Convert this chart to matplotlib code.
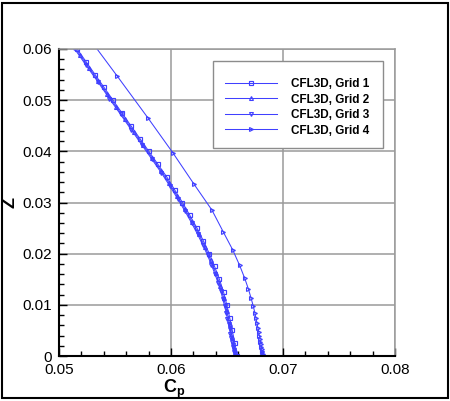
import matplotlib
matplotlib.use("Agg")
import matplotlib.pyplot as plt
from matplotlib.ticker import MultipleLocator, FormatStrFormatter
from matplotlib.patches import Rectangle

plt.rcParams['font.family'] = ['Liberation Sans', 'DejaVu Sans']
plt.rcParams['mathtext.fontset'] = 'custom'
plt.rcParams['mathtext.rm'] = 'Liberation Sans'
plt.rcParams['mathtext.bf'] = 'Liberation Sans:bold'

# ---- data ----
grid1_z = [0.0, 0.0025, 0.005, 0.0075, 0.01, 0.0125, 0.015, 0.0175, 0.02, 0.0225,
           0.025, 0.0275, 0.03, 0.0325, 0.035, 0.0375, 0.04, 0.0425, 0.045, 0.0475,
           0.05, 0.0525, 0.055, 0.0575, 0.06, 0.0625, 0.065]
grid1_cp = [0.06592, 0.06570, 0.06547, 0.06524, 0.06498, 0.06469, 0.06432, 0.06389, 0.06342, 0.06289,
            0.06232, 0.06168, 0.06102, 0.06032, 0.05962, 0.05882, 0.05802, 0.05722, 0.05642, 0.05562,
            0.05482, 0.05402, 0.05322, 0.05242, 0.05162, 0.05082, 0.05002]

grid2_z = [0.0, 0.00125, 0.00375, 0.00625, 0.00875, 0.01125, 0.01375, 0.01625, 0.01875, 0.02125,
           0.02375, 0.02625, 0.02875, 0.03125, 0.03375, 0.03625, 0.03875, 0.04125, 0.04375,
           0.04625, 0.04875, 0.05125, 0.05375, 0.05625, 0.05875, 0.06125, 0.06375]
grid2_cp = [0.06580, 0.06569, 0.06547, 0.06524, 0.06499, 0.06472, 0.06439, 0.06399, 0.06354, 0.06304,
            0.06249, 0.06188, 0.06123, 0.06055, 0.05985, 0.05910, 0.05830, 0.05750, 0.05670,
            0.05590, 0.05510, 0.05430, 0.05350, 0.05270, 0.05190, 0.05110, 0.05030]

grid3_z = [0.0, 0.0004, 0.0008, 0.0012, 0.0017, 0.0022, 0.0028, 0.0035, 0.0043, 0.0052,
           0.0062, 0.0073, 0.0085, 0.0098, 0.0112, 0.0127, 0.0143, 0.0160, 0.0178, 0.0197,
           0.0217, 0.0238, 0.0260, 0.0283, 0.0307, 0.0332, 0.0358, 0.0385, 0.0413, 0.0442,
           0.0472, 0.0503, 0.0535, 0.0568, 0.0602, 0.0637]
grid3_cp = [0.06570, 0.06567, 0.06563, 0.06559, 0.06555, 0.06551, 0.06545, 0.06539, 0.06531, 0.06523,
            0.06514, 0.06504, 0.06492, 0.06478, 0.06462, 0.06444, 0.06420, 0.06393, 0.06361, 0.06326,
            0.06284, 0.06237, 0.06184, 0.06125, 0.06060, 0.05990, 0.05914, 0.05828, 0.05738, 0.05646,
            0.05550, 0.05450, 0.05350, 0.05242, 0.05134, 0.05022]

grid4_z = [0.0645, 0.0547, 0.0465, 0.0397, 0.0336, 0.0285, 0.0242, 0.0207, 0.0177, 0.0152,
           0.0131, 0.0113, 0.0098, 0.0085, 0.0074, 0.0064, 0.0055, 0.0047, 0.0040, 0.0034,
           0.0028, 0.0023, 0.0018, 0.0014, 0.0010, 0.0007, 0.0004, 0.0002, 0.0]
grid4_cp = [0.05187, 0.05520, 0.05795, 0.06017, 0.06205, 0.06366, 0.06468, 0.06552, 0.06613, 0.06658,
            0.06691, 0.06715, 0.06734, 0.06748, 0.06759, 0.06768, 0.06776, 0.06783, 0.06788, 0.06793,
            0.06798, 0.06803, 0.06806, 0.06809, 0.06812, 0.06815, 0.06817, 0.06818, 0.06820]

labels = ["CFL3D, Grid 1", "CFL3D, Grid 2", "CFL3D, Grid 3", "CFL3D, Grid 4"]
x_ticks = [0.05, 0.06, 0.07, 0.08]
y_ticks = [0, 0.01, 0.02, 0.03, 0.04, 0.05, 0.06]

# ---- figure ----
fig = plt.figure(figsize=(4.5, 4.01), dpi=100)
ax = fig.add_axes([59/450, 1-356/401, 336/450, 307/401])

color = '#4040ff'
series = [(grid1_cp, grid1_z, 's'), (grid2_cp, grid2_z, '^'),
          (grid3_cp, grid3_z, 'v'), (grid4_cp, grid4_z, '>')]
for (cp, z, m), lab in zip(series, labels):
    ax.plot(cp, z, color=color, lw=0.75, marker=m, ms=2.8, mfc='none',
            mec=color, mew=0.85, label=lab, clip_on=True, zorder=2)

ax.set_xlim(0.05, 0.08)
ax.set_ylim(0, 0.06)
ax.set_xticks(x_ticks)
ax.set_yticks(y_ticks)
ax.xaxis.set_major_formatter(FormatStrFormatter('%g'))
ax.yaxis.set_major_formatter(FormatStrFormatter('%g'))
ax.xaxis.set_minor_locator(MultipleLocator(0.002))
ax.yaxis.set_minor_locator(MultipleLocator(0.002))
ax.tick_params(which='both', direction='in', top=False, right=False, labelsize=11,
               color='black', width=1.0)
ax.tick_params(which='major', length=6, pad=5)
ax.tick_params(which='minor', length=3.5)
ax.grid(True, which='major', color='#9a9a9a', lw=1.1)
ax.set_axisbelow(True)
for s in ['left', 'bottom']:
    ax.spines[s].set_color('black')
    ax.spines[s].set_linewidth(1.5)
for s in ['top', 'right']:
    ax.spines[s].set_color('#9a9a9a')
    ax.spines[s].set_linewidth(1.1)

ax.set_xlabel(r'$\mathbf{C_p}$', fontsize=13)
ax.xaxis.set_label_coords((174-59)/336, -0.072)
ax.set_ylabel('Z', fontsize=13, fontweight='bold')
ax.yaxis.set_label_coords((18-59)/336, 0.50)

# legend box (drawn separately to match the reference padding)
ax.add_patch(Rectangle(((213-59)/336, (356-148)/307), 170/336, 87/307,
                       transform=ax.transAxes, facecolor='white', edgecolor='#8c8c8c',
                       lw=1.0, zorder=4, clip_on=False))
leg = ax.legend(loc='upper left', bbox_to_anchor=((225-59)/336, (356-78)/307),
                prop={'weight': 'bold', 'size': 8.5}, frameon=False,
                borderpad=0.0, handlelength=4.4, handletextpad=1.2, labelspacing=0.3,
                borderaxespad=0.0)
leg.set_zorder(5)

fig.patches.append(Rectangle((2/450, 3/401), 446/450, 395/401, transform=fig.transFigure,
                             fill=False, edgecolor='black', lw=1.5))

fig.savefig('out.png', dpi=100)
